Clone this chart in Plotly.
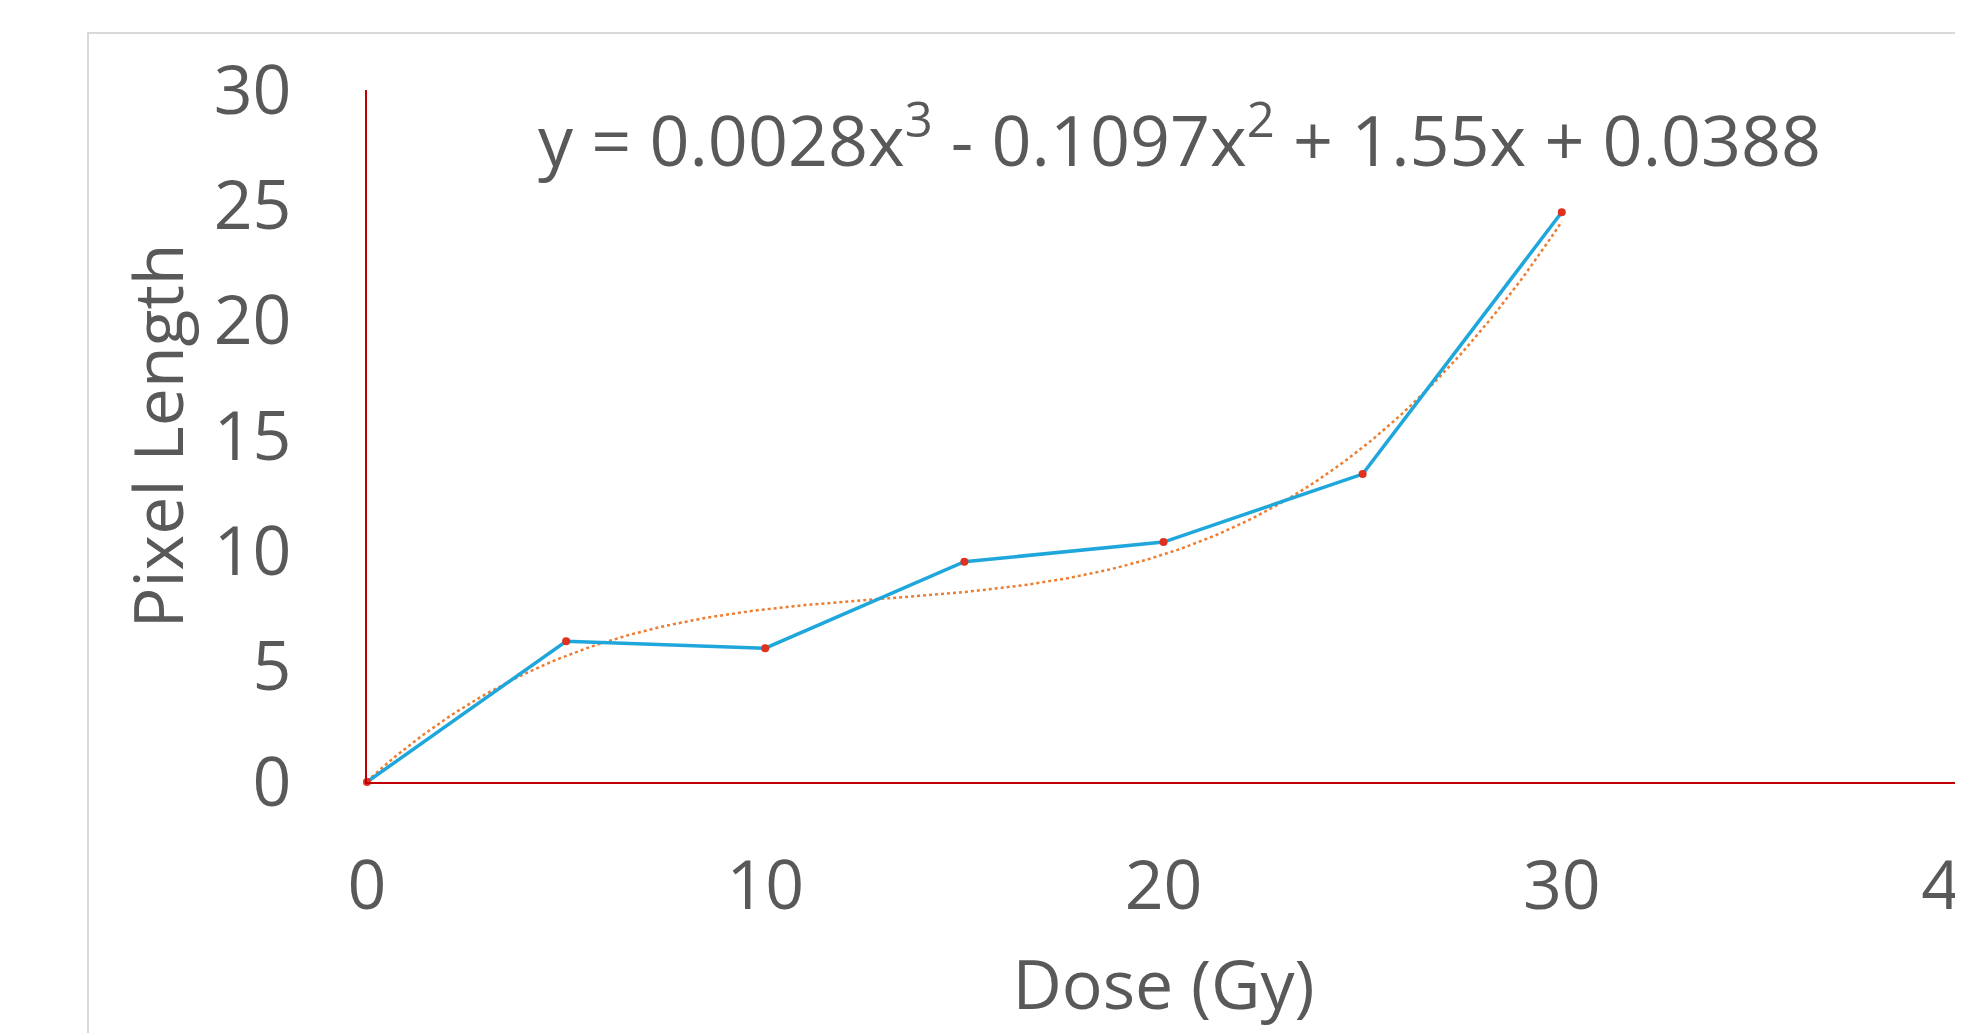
import numpy as np
import plotly.graph_objects as go

# Data
dose_gy = [0, 5, 10, 15, 20, 25, 30]
pixel_length = [0, 6.1, 5.8, 9.55, 10.4, 13.35, 24.7]
x_ticks = [0, 10, 20, 30, 40]
y_ticks = [0, 5, 10, 15, 20, 25, 30]
equation = "y = 0.0028x<sup>3</sup> - 0.1097x<sup>2</sup> + 1.55x + 0.0388"

# Cubic trendline fitted from the data
coef = np.polyfit(dose_gy, pixel_length, 3)
xt = np.linspace(min(dose_gy), max(dose_gy), 200)
yt = np.polyval(coef, xt)

TXT = "#595959"
FONT = "Open Sans"
AX = "#C00000"

fig = go.Figure()
fig.add_trace(go.Scatter(x=xt, y=yt, mode="lines",
                         line=dict(color="#ED7D31", width=2.5, dash="dot"),
                         hoverinfo="skip", showlegend=False))
fig.add_trace(go.Scatter(x=dose_gy, y=pixel_length, mode="lines+markers",
                         line=dict(color="#1FA7DC", width=3.5),
                         marker=dict(color="#E0301E", size=8),
                         showlegend=False, cliponaxis=False))

# page body has an 8px margin, so the figure is 8px smaller than the window
W, H = 1955, 1025
L, R, T, B = 359, 3, 82, 251
PH = H - T - B

fig.update_layout(
    width=W, height=H,
    margin=dict(l=L, r=R, t=T, b=B, autoexpand=False),
    paper_bgcolor="white", plot_bgcolor="white",
    font=dict(family=FONT, color=TXT, size=68),
    xaxis=dict(range=[0, 40], tickvals=x_ticks, ticktext=[str(v) for v in x_ticks],
               showgrid=False, zeroline=False, showline=True, linecolor=AX, linewidth=2,
               ticks="", ticklabelstandoff=43, ticklabeloverflow="allow",
               tickfont=dict(size=68, color=TXT, family=FONT),
               title=dict(text="Dose (Gy)", font=dict(size=68, color=TXT, family=FONT), standoff=34)),
    yaxis=dict(range=[0, 30], tickvals=y_ticks, ticktext=[str(v) for v in y_ticks],
               showgrid=False, zeroline=False, showline=True, linecolor=AX, linewidth=2,
               ticks="", ticklabelstandoff=60,
               tickfont=dict(size=68, color=TXT, family=FONT),
               title=dict(text="Pixel Length", font=dict(size=68, color=TXT, family=FONT), standoff=8)),
    annotations=[dict(text=equation, xref="x", yref="paper",
                      x=20.4, y=(PH - 46) / PH, xanchor="center", yanchor="middle",
                      showarrow=False, font=dict(size=70, color=TXT, family=FONT))],
    shapes=[dict(type="rect", xref="paper", yref="paper",
                 x0=(80 - L) / (W - L - R), x1=1.2,
                 y0=-0.6, y1=(PH + 57) / PH,
                 line=dict(color="#D9D9D9", width=2), fillcolor="rgba(0,0,0,0)",
                 layer="below")],
)

fig.write_html("out.html")
